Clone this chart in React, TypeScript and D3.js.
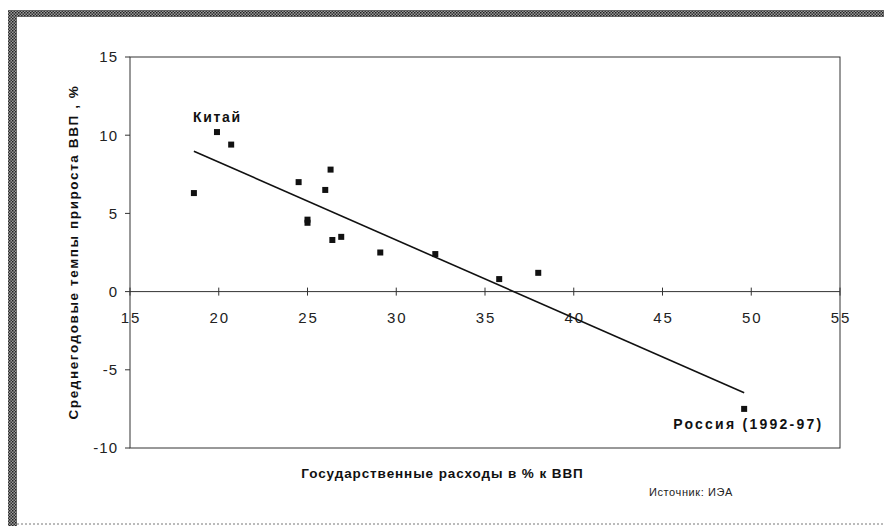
import * as d3 from "d3";

/* ------------------------------------------------------------------ */
/*  Data                                                               */
/* ------------------------------------------------------------------ */

// государственные расходы, % ВВП
const spending = [
  18.6, 19.9, 20.7, 24.5, 26.0, 26.3, 25.0, 25.0, 26.4, 26.9, 29.1, 32.2,
  35.8, 38.0, 49.6,
];
// среднегодовой прирост ВВП, %
const growth = [
  6.3, 10.2, 9.4, 7.0, 6.5, 7.8, 4.6, 4.4, 3.3, 3.5, 2.5, 2.4, 0.8, 1.2, -7.5,
];

const xTicks = [15, 20, 25, 30, 35, 40, 45, 50, 55];
const yTicks = [-10, -5, 0, 5, 10, 15];

const labels = [
  { text: "Китай", idx: 1 },
  { text: "Россия (1992-97)", idx: 14 },
];

const X_TITLE = "Государственные расходы в % к ВВП";
const Y_TITLE = "Среднегодовые темпы прироста ВВП , %";
const SOURCE = "Источник: ИЭА";

/* ------------------------------------------------------------------ */
/*  Theme                                                              */
/* ------------------------------------------------------------------ */

const W = 884;
const H = 526;
const INK = "#111";
const AXIS = "#333";
const FONT = "Arial, 'Liberation Sans', sans-serif";

const plot = { left: 130, right: 840, top: 57, bottom: 448 };

export default function App() {
  const x = d3.scaleLinear().domain([15, 55]).range([plot.left, plot.right]);
  const y = d3.scaleLinear().domain([-10, 15]).range([plot.bottom, plot.top]);

  /* least-squares trend line */
  const mx = d3.mean(spending) as number;
  const my = d3.mean(growth) as number;
  const sxy = d3.sum(spending, (v, i) => (v - mx) * (growth[i] - my));
  const sxx = d3.sum(spending, (v) => (v - mx) ** 2);
  const slope = sxy / sxx;
  const icpt = my - slope * mx;
  const [x0, x1] = d3.extent(spending) as [number, number];
  const trend = d3.line<number>()
    .x((v) => x(v))
    .y((v) => y(icpt + slope * v))([x0, x1]);

  const y0 = y(0);

  return (
    <svg
      width={W}
      height={H}
      style={{ position: "absolute", left: 0, top: 0, background: "#fff" }}
      fontFamily={FONT}
    >
      <defs>
        <pattern id="hatch" width="3" height="3" patternUnits="userSpaceOnUse">
          <rect width="3" height="3" fill="#9a9a9a" />
          <rect width="1.5" height="1.5" fill="#222" />
          <rect x="1.5" y="1.5" width="1.5" height="1.5" fill="#333" />
        </pattern>
      </defs>

      {/* outer frame */}
      <rect x={8} y={10} width={W - 8} height={7} fill="url(#hatch)" />
      <rect x={8} y={10} width={9} height={H - 10} fill="url(#hatch)" />
      <line
        x1={17}
        x2={W}
        y1={524}
        y2={524}
        stroke="#777"
        strokeWidth={1}
        strokeDasharray="2 2"
      />

      {/* plot box */}
      <rect
        x={plot.left}
        y={plot.top}
        width={plot.right - plot.left}
        height={plot.bottom - plot.top}
        fill="none"
        stroke={AXIS}
        strokeWidth={1}
      />

      {/* y ticks */}
      {yTicks.map((t) => (
        <g key={`y${t}`}>
          <line x1={plot.left - 5} x2={plot.left} y1={y(t)} y2={y(t)} stroke={AXIS} />
          <text
            x={plot.left - 12}
            y={y(t)}
            dy="0.36em"
            textAnchor="end"
            fontSize={15}
            letterSpacing={1}
            fill="#222"
          >
            {t}
          </text>
        </g>
      ))}

      {/* x axis at zero */}
      <line x1={plot.left} x2={plot.right} y1={y0} y2={y0} stroke={AXIS} />
      {xTicks.map((t) => (
        <g key={`x${t}`}>
          <line x1={x(t)} x2={x(t)} y1={y0 - 4} y2={y0 + 4} stroke={AXIS} />
          <text
            x={x(t) + 1}
            y={y0 + 31}
            textAnchor="middle"
            fontSize={15}
            letterSpacing={2}
            fill="#222"
          >
            {t}
          </text>
        </g>
      ))}

      {/* trend */}
      <path d={trend ?? ""} fill="none" stroke={INK} strokeWidth={1.6} />

      {/* points */}
      {spending.map((v, i) => (
        <rect
          key={i}
          x={x(v) - 3}
          y={y(growth[i]) - 3}
          width={6}
          height={6}
          fill={INK}
        />
      ))}

      {/* labels */}
      <text
        x={x(spending[labels[0].idx]) - 24}
        y={y(growth[labels[0].idx]) - 10}
        fontSize={14}
        fontWeight="bold"
        letterSpacing={1.7}
        fill={INK}
      >
        {labels[0].text}
      </text>
      <text
        x={x(spending[labels[1].idx]) - 71}
        y={y(growth[labels[1].idx]) + 20}
        fontSize={14}
        fontWeight="bold"
        letterSpacing={2.25}
        fill={INK}
      >
        {labels[1].text}
      </text>

      {/* axis titles */}
      <text
        x={(302 + 583) / 2}
        y={478}
        textAnchor="middle"
        fontSize={13.5}
        fontWeight="bold"
        letterSpacing={0.9}
        fill={INK}
      >
        {X_TITLE}
      </text>
      <text
        transform={`translate(78,252) rotate(-90)`}
        textAnchor="middle"
        fontSize={13.5}
        fontWeight="bold"
        letterSpacing={1.6}
        fill={INK}
      >
        {Y_TITLE}
      </text>

      {/* source */}
      <text x={649} y={496} fontSize={11} letterSpacing={0.6} fill="#222">
        {SOURCE}
      </text>
    </svg>
  );
}
